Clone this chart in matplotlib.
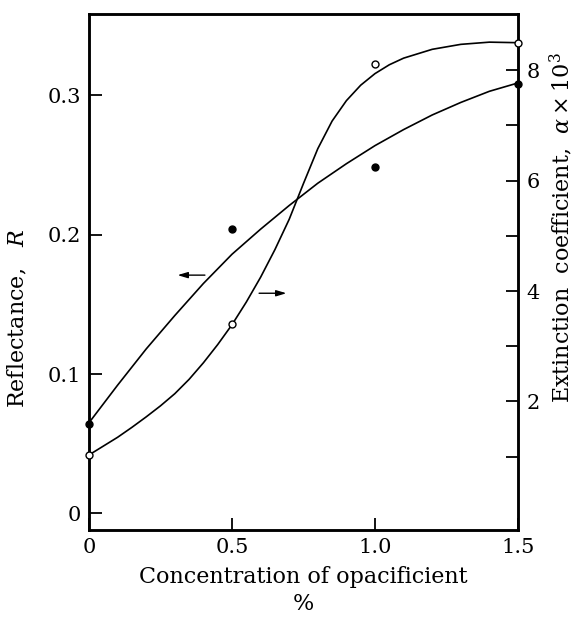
import matplotlib.pyplot as plt

plt.rcParams['font.family'] = 'DejaVu Serif'
plt.rcParams['mathtext.fontset'] = 'dejavuserif'

# measured points
conc = [0, 0.5, 1.0, 1.5]
refl = [0.064, 0.204, 0.249, 0.308]       # filled dots, left axis
ext = [1.03, 3.40, 8.12, 8.49]            # open dots, right axis

# hand-drawn curves
refl_x = [0, 0.1, 0.2, 0.3, 0.4, 0.5, 0.6, 0.7, 0.8, 0.9, 1.0, 1.1, 1.2, 1.3, 1.4, 1.5]
refl_y = [0.065, 0.092, 0.118, 0.142, 0.165, 0.186, 0.204, 0.221, 0.237, 0.251,
          0.264, 0.2755, 0.286, 0.295, 0.303, 0.309]
ext_x = [0, 0.05, 0.1, 0.15, 0.2, 0.25, 0.3, 0.35, 0.4, 0.45, 0.5, 0.55, 0.6, 0.65,
         0.7, 0.75, 0.8, 0.85, 0.9, 0.95, 1.0, 1.05, 1.1, 1.2, 1.3, 1.4, 1.5]
ext_y = [1.03, 1.19, 1.35, 1.53, 1.72, 1.92, 2.14, 2.40, 2.70, 3.03, 3.39, 3.80,
         4.25, 4.75, 5.30, 5.95, 6.58, 7.08, 7.45, 7.73, 7.94, 8.10, 8.22, 8.38,
         8.47, 8.51, 8.50]

fig = plt.figure(figsize=(5.79, 6.18), dpi=100)
ax = fig.add_axes([89/579, 1-530/618, 429/579, 516/618])
ax2 = ax.twinx()

ax.plot(refl_x, refl_y, color='black', lw=1.2)
ax.plot(conc, refl, 'o', color='black', ms=5, clip_on=False, zorder=5)
ax2.plot(ext_x, ext_y, color='black', lw=1.2)
ax2.plot(conc, ext, 'o', mfc='white', mec='black', mew=1, ms=5, clip_on=False, zorder=5)

ax.set_xlim(0, 1.5)
ax.set_ylim(-0.012, 0.3585)
ax2.set_ylim(-0.33, 9.02)

ax.set_xticks([0, 0.5, 1.0, 1.5], ['0', '0.5', '1.0', '1.5'])
ax.set_yticks([0, 0.1, 0.2, 0.3], ['0', '0.1', '0.2', '0.3'])
ax2.set_yticks([2, 4, 6, 8], ['2', '4', '6', '8'])
ax2.set_yticks([1, 3, 5, 7], minor=True)

ax.tick_params(direction='in', length=9, width=1.3, labelsize=15, pad=6)
ax2.tick_params(which='both', direction='in', length=9, width=1.3, labelsize=15, pad=6)

for a in (ax, ax2):
    for s in a.spines.values():
        s.set_linewidth(1.8)

# arrows showing which axis each curve belongs to
ax.annotate('', xy=(0.30, 0.171), xytext=(0.415, 0.171),
            arrowprops=dict(arrowstyle='-|>,head_length=0.6,head_width=0.18', color='black', lw=1))
ax2.annotate('', xy=(0.70, 3.96), xytext=(0.585, 3.96),
             arrowprops=dict(arrowstyle='-|>,head_length=0.6,head_width=0.18', color='black', lw=1))

ax.set_xlabel('Concentration of opacificient\n%', fontsize=16, linespacing=1.3, labelpad=6)
ax.set_ylabel('Reflectance,   $R$', fontsize=16)
ax.yaxis.set_label_coords(-0.14, 0.41)
ax2.set_ylabel(r'Extinction  coefficient,  $\alpha\times10^3$', fontsize=16)
ax2.yaxis.set_label_coords(1.07, 0.585)

fig.savefig('out.png', dpi=100)
